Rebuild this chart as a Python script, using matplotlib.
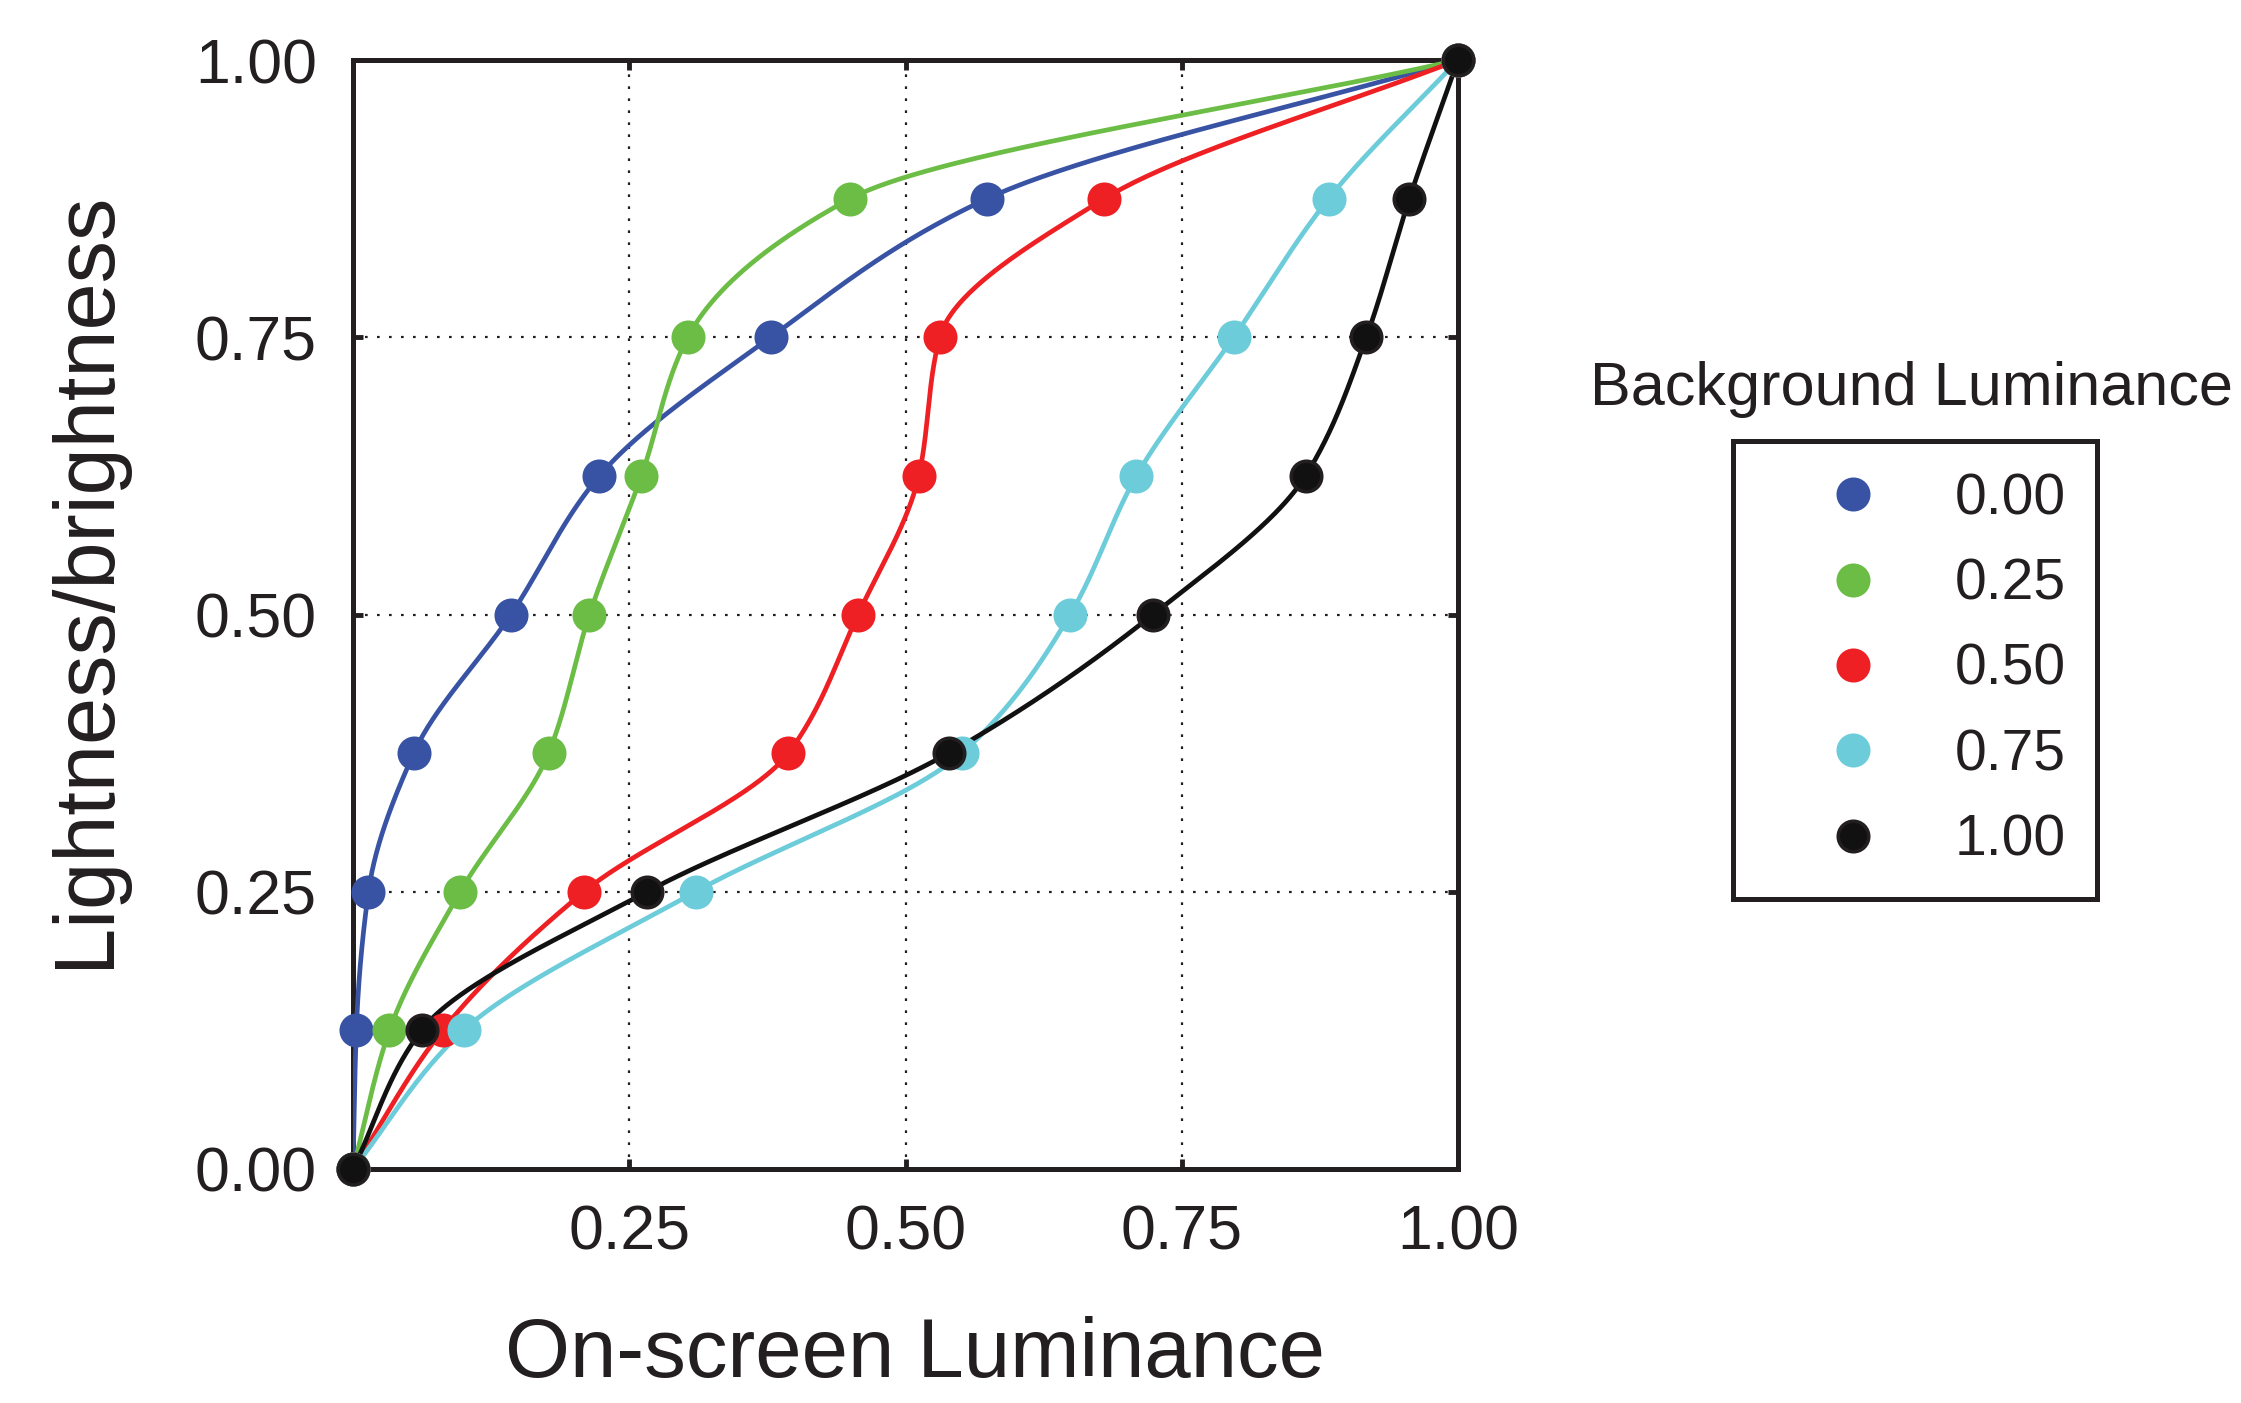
import matplotlib
matplotlib.use("Agg")
import matplotlib.pyplot as plt
from matplotlib.lines import Line2D
import numpy as np

plt.rcParams['font.family'] = ['Liberation Sans', 'DejaVu Sans']

# lightness levels (y) shared by every curve
levels = [0.0, 0.125, 0.25, 0.375, 0.5, 0.625, 0.75, 0.875, 1.0]

# on-screen luminance (x), one list per background
bg_labels = ['0.00', '0.25', '0.50', '0.75', '1.00']
lum_000 = [0.0, 0.003, 0.014, 0.055, 0.143, 0.223, 0.378, 0.574, 1.0]
lum_025 = [0.0, 0.033, 0.097, 0.177, 0.214, 0.261, 0.303, 0.450, 1.0]
lum_050 = [0.0, 0.081, 0.209, 0.394, 0.457, 0.512, 0.531, 0.680, 1.0]
lum_075 = [0.0, 0.100, 0.310, 0.551, 0.649, 0.709, 0.797, 0.883, 1.0]
lum_100 = [0.0, 0.062, 0.266, 0.539, 0.724, 0.862, 0.917, 0.956, 1.0]
colors = ['#3953A4', '#6BBD45', '#EE2024', '#6DCCDA', '#111111']

xticks = [0.0, 0.25, 0.5, 0.75, 1.0]
xticklabels = ['', '0.25', '0.50', '0.75', '1.00']
yticklabels = ['0.00', '0.25', '0.50', '0.75', '1.00']


def pchip(t, v, tt):
    # monotone cubic (Fritsch-Carlson), used only to draw the smooth line
    t = np.asarray(t, float)
    v = np.asarray(v, float)
    h = np.diff(t)
    d = np.diff(v) / h
    m = np.zeros_like(v)
    for k in range(1, len(v) - 1):
        if d[k - 1] * d[k] > 0:
            w1 = 2 * h[k] + h[k - 1]
            w2 = h[k] + 2 * h[k - 1]
            m[k] = (w1 + w2) / (w1 / d[k - 1] + w2 / d[k])
    m[0] = d[0]
    m[-1] = d[-1]
    idx = np.clip(np.searchsorted(t, tt) - 1, 0, len(h) - 1)
    s = (tt - t[idx]) / h[idx]
    h00 = 2 * s**3 - 3 * s**2 + 1
    h10 = s**3 - 2 * s**2 + s
    h01 = -2 * s**3 + 3 * s**2
    h11 = s**3 - s**2
    return (h00 * v[idx] + h10 * h[idx] * m[idx] + h01 * v[idx + 1]
            + h11 * h[idx] * m[idx + 1])


fig = plt.figure(figsize=(22.41, 14.03), dpi=100)
ax = fig.add_axes([353 / 2241, 1 - 1169 / 1403, 1105 / 2241, 1109 / 1403])

series = [lum_000, lum_025, lum_050, lum_075, lum_100]
tt = np.linspace(0, 1, 600)
for lum, col in zip(series, colors):
    ax.plot(pchip(levels, lum, tt), tt, color=col, lw=3.4, zorder=3,
            solid_capstyle='round')
for lum, col in zip(series, colors):
    ax.plot(lum, levels, 'o', color=col, ms=22, mec='#231F20' if col == '#111111' else col,
            mew=2.5, zorder=4, clip_on=False)

ax.set_xlim(0, 1)
ax.set_ylim(0, 1)
ax.set_xticks(xticks)
ax.set_xticklabels(xticklabels)
ax.set_yticks(xticks)
ax.set_yticklabels(yticklabels)
ax.tick_params(direction='in', length=7, width=3.5, top=True, right=True,
               labelsize=45, color='#231F20', labelcolor='#231F20')
ax.tick_params(axis='x', pad=25)
ax.tick_params(axis='y', pad=26)

for g in [0.25, 0.5, 0.75]:
    ax.axvline(g, color='#231F20', lw=1.6, ls=(0, (1.2, 4.2)), zorder=1)
    ax.axhline(g, color='#231F20', lw=1.6, ls=(0, (1.2, 4.2)), zorder=1)

for sp in ax.spines.values():
    sp.set_linewidth(3.6)
    sp.set_color('#231F20')

ax.set_xlabel('On-screen Luminance', fontsize=60, color='#231F20', va='center')
ax.xaxis.set_label_coords(0.509, -0.168)
ax.set_ylabel('Lightness/brightness', fontsize=61, color='#231F20', va='center')
ax.yaxis.set_label_coords(-0.242, 0.532)

handles = [Line2D([], [], marker='o', ls='none', color=c, ms=22,
                  mec='#231F20' if c == '#111111' else c, mew=2.5) for c in colors]
leg = fig.legend(handles, bg_labels, loc='upper left',
                 bbox_to_anchor=(1733 / 2241, 1 - 441 / 1403),
                 fontsize=41, frameon=True, fancybox=False, framealpha=1,
                 edgecolor='#231F20', borderpad=0.55, labelspacing=0.55,
                 handlelength=3.1, handletextpad=0.24, borderaxespad=0)
leg.get_frame().set_linewidth(3.6)
for t in leg.get_texts():
    t.set_color('#231F20')

fig.text(1911 / 2241, 1 - 389 / 1403, 'Background Luminance', fontsize=44,
         ha='center', va='center', color='#231F20')

fig.savefig('out.png', dpi=100)
